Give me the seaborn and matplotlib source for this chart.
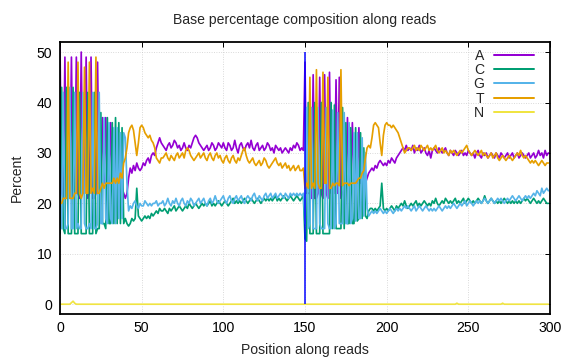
import matplotlib
matplotlib.use("Agg")
import matplotlib.pyplot as plt
import seaborn as sns
import pandas as pd
from matplotlib.lines import Line2D

# ---------------- data (percent of each base at each read position) ----------------
positions = list(range(0, 300))
bases = ["A", "C", "G", "T", "N"]

pct_A = [
    51, 22, 21, 49, 21, 22, 21, 49, 21, 22,
    49, 22, 21, 50, 22, 22, 49, 21, 22, 49,
    21, 21, 22, 48, 22, 24, 37, 24, 37, 23,
    24, 36, 24, 24, 23, 24, 23, 24, 23, 22,
    21, 22, 25, 27, 26, 27.5, 26.5, 28, 27, 26.5,
    27, 28, 27.5, 28.5, 29, 28, 29.5, 30, 29.5, 31,
    32, 33, 32, 31.5, 31, 30.5, 31.5, 32, 31, 31.5,
    32.5, 32, 31, 31.5, 30.5, 31, 32, 31, 30.5, 31.5,
    31, 32, 33, 33.5, 33, 32, 31.5, 31, 30.5, 31,
    31.5, 30.5, 31, 32, 31.5, 30.5, 31, 32, 31.5, 31,
    32, 31, 30.5, 32, 31.5, 30.5, 31, 32.5, 31, 30,
    31.5, 32, 31, 30.5, 31.5, 32, 31, 32.5, 31, 30.5,
    31.5, 32, 30.5, 31, 31.5, 30.5, 31, 32, 31.5, 30.5,
    31, 30, 31.5, 31, 30.5, 31, 30, 30.5, 31, 30.5,
    30, 31, 30.5, 31.5, 31, 32, 31.5, 30.5, 31, 30.5,
    48, 22, 22, 22, 21, 45.5, 21, 21, 22, 45,
    22, 21, 45.5, 22, 21, 46, 22, 22, 22, 44.5,
    22, 45, 21, 22, 23, 23, 37, 24, 24, 36,
    24, 24, 24, 35, 24, 25, 25, 24, 25, 26,
    26.5, 27, 26.5, 27.5, 27, 28, 28.5, 28, 27.5, 28,
    27.5, 28.5, 28, 29, 28.5, 28, 29, 29.5, 30, 30.5,
    31, 30.5, 31.5, 30.5, 31, 30.5, 31.5, 30, 31, 30.5,
    31.5, 30, 30.5, 31, 30, 29.5, 30.5, 29, 30.5, 31,
    30.5, 30, 31, 30.5, 30, 30.5, 31, 30, 29.5, 30.5,
    30, 29.5, 30.5, 30, 29.5, 30, 30.5, 29.5, 30, 29.5,
    30.5, 30, 29.5, 30, 29, 30, 30.5, 29.5, 29, 30,
    29.5, 30, 29, 29.5, 30, 29.5, 29, 30, 29.5, 29,
    30, 29.5, 29, 29.5, 30, 29, 29.5, 30, 29, 29.5,
    30, 29, 29.5, 30, 29.5, 29, 29.5, 30, 29, 29.5,
    30, 29, 29.5, 30.5, 29.5, 30, 29, 30.5, 29.5, 30,
]

pct_C = [
    14, 43, 15, 14, 43, 14, 14, 14, 43, 14,
    14, 14, 42, 14, 14, 14, 14, 42, 14, 14,
    14, 42, 14, 15, 15, 38, 16, 16, 15, 37,
    16, 16, 36, 16, 37, 16, 36, 16, 35, 16,
    17, 16, 15.5, 16, 17, 16.5, 17, 23, 17.5, 17,
    16.5, 17, 17.5, 17, 17.5, 17, 18, 17.5, 18, 18.5,
    18, 19, 18.5, 18.5, 19, 18.5, 18, 19, 18.5, 19,
    19.5, 18.5, 19, 19.5, 19, 18.5, 19, 19.5, 19, 20,
    19.5, 19, 19.5, 20, 19.5, 19, 19.5, 20, 19.5, 20,
    19.5, 20, 20.5, 19.5, 20, 19.5, 20, 20.5, 20, 19.5,
    20, 20.5, 20, 19.5, 20, 20.5, 21, 20, 20.5, 20,
    20.5, 20, 20.5, 21, 20.5, 20, 20.5, 21, 20.5, 20,
    20.5, 21, 20.5, 20, 20.5, 21, 20.5, 21, 20.5, 21,
    20.5, 21, 21.5, 20.5, 21, 20.5, 21, 21.5, 21, 20.5,
    21, 21.5, 21, 20.5, 21, 21.5, 21, 20.5, 21, 21.5,
    13, 12.5, 40, 14, 14, 14, 40, 14, 14, 14,
    40, 14, 14, 14, 14, 14, 40, 15, 39.5, 15,
    15, 15, 15, 39, 15, 36, 16, 16, 35, 16,
    16, 35, 16.5, 17, 34, 17, 31, 17.5, 17, 18.5,
    19, 19, 18.5, 19, 18.5, 19, 19.5, 24, 19, 18.5,
    19, 18.5, 19, 19.5, 19, 18.5, 19.5, 19, 19.5, 20,
    19.5, 20.5, 19.5, 19, 19.5, 20, 19.5, 20, 20.5, 19.5,
    20, 19.5, 20, 20.5, 20, 19.5, 20, 19.5, 20.5, 20,
    21, 20, 19.5, 20, 20.5, 20, 21, 20.5, 20, 20.5,
    20, 20.5, 21, 20, 20.5, 20, 20.5, 21, 20, 20.5,
    21, 20.5, 20, 20.5, 20, 20.5, 21, 20.5, 20, 20.5,
    21.5, 20.5, 20, 20.5, 21, 20.5, 20, 20.5, 20, 20.5,
    20, 20.5, 21, 20.5, 20, 20.5, 20, 20.5, 20, 20.5,
    20, 20.5, 20, 20.5, 21, 20.5, 21, 20.5, 20, 20.5,
    21, 20.5, 20, 20.5, 20, 20.5, 21, 20.5, 20, 20,
]

pct_G = [
    15, 15, 42, 15, 15, 16, 43, 15, 15, 42,
    15, 16, 15, 15, 42, 16, 15, 15, 16, 15,
    42, 15, 15, 16, 42, 16, 16, 37, 17, 16,
    36, 17, 16, 35, 16, 35, 17, 34, 17, 34,
    33, 24, 18.5, 19.5, 19, 20, 20.5, 19.5, 19, 20,
    19.5, 19.5, 20.5, 20, 19.5, 20, 19.5, 20, 20, 20.5,
    19.5, 20, 20, 20.5, 19.5, 20, 21, 20, 19.5, 20.5,
    20, 21, 20, 19.5, 20.5, 21, 20, 19.5, 20.5, 20,
    21, 20.5, 19.5, 20, 20.5, 21, 20, 20.5, 21, 20,
    19.5, 20.5, 21, 20, 20.5, 21.5, 20.5, 20, 20.5, 21,
    21.5, 20.5, 20, 21, 21.5, 20.5, 20, 21, 21.5, 20.5,
    21, 21.5, 20.5, 20, 21, 21.5, 21, 20.5, 21.5, 22,
    21, 20.5, 21.5, 21, 20.5, 21.5, 22, 21, 21.5, 22,
    21, 21.5, 22, 21, 21.5, 22, 21.5, 21, 22, 21.5,
    21, 22, 21.5, 22, 21.5, 22, 21.5, 22, 21.5, 22,
    16, 39, 15, 16, 39, 15, 15, 15, 39, 16,
    15, 15, 15, 39, 16, 15, 15, 38.5, 15, 16,
    38, 16, 16, 16, 38, 16, 16, 36, 16, 17,
    34, 16.5, 34, 17, 17, 33, 17.5, 30, 19, 17.5,
    18, 18.5, 18, 18.5, 18, 18.5, 19, 18.5, 18, 18.5,
    18, 18.5, 19, 18.5, 18, 18.5, 19, 18.5, 19, 18.5,
    19, 19.5, 19, 19.5, 19, 18.5, 19, 19.5, 18.5, 19,
    19.5, 19, 18.5, 19, 19.5, 19, 18.5, 19, 18.5, 19,
    18.5, 19, 19.5, 19, 18.5, 19, 19.5, 19, 19.5, 19,
    19.5, 20, 19.5, 19, 19.5, 20, 19.5, 20, 20.5, 19.5,
    20, 20.5, 20, 19.5, 20, 20.5, 20, 20.5, 20, 20.5,
    21, 20.5, 20, 20.5, 21, 20.5, 20, 20.5, 21, 20.5,
    21, 20.5, 20, 20.5, 21, 20.5, 21, 21.5, 21, 20.5,
    21, 21.5, 21, 20.5, 21, 21.5, 21, 21.5, 21, 21.5,
    22, 21.5, 22.5, 22, 21.5, 23, 22, 22.5, 23, 22.5,
]

pct_T = [
    20, 20, 21, 21, 21, 48, 21, 21, 21, 22,
    22, 48, 22, 21, 22, 47, 22, 22, 48, 22,
    23, 22, 49, 22, 22, 23, 24, 23, 24, 24,
    24, 24, 24, 25, 24, 25, 24, 26, 25, 28,
    29, 31, 34, 35, 35.5, 34.5, 32, 29.5, 32, 35,
    35.5, 35, 34, 33.5, 33, 33.5, 32.5, 32, 31, 29,
    28.5, 28, 29, 29, 29.5, 30, 29, 28.5, 29.5, 29,
    28.5, 29.5, 30, 29, 29.5, 30, 29, 30.5, 31, 30.5,
    29.5, 29, 28.5, 29, 29.5, 30, 29, 29.5, 30, 29,
    28.5, 29.5, 30, 29, 28.5, 29.5, 30, 29, 29.5, 28.5,
    28, 29, 29.5, 28.5, 28, 29, 29.5, 28.5, 28, 29,
    28.5, 29.5, 30.5, 31, 29.5, 28.5, 28, 28.5, 29, 28,
    27.5, 28, 28.5, 27.5, 28, 29, 28.5, 27.5, 27, 27.5,
    28, 28.5, 29, 28, 27.5, 28, 27, 27.5, 28, 27,
    27.5, 26.5, 27, 27.5, 26.5, 27, 27.5, 26.5, 26.5, 27,
    23, 24, 23, 45, 23, 24, 23, 46.5, 24, 23,
    23, 46, 24, 24, 45, 23, 23, 24, 23.5, 24,
    24, 23.5, 46.5, 23.5, 24, 24, 24, 23.5, 24, 24,
    24, 24, 24.5, 25, 25, 26, 26.5, 29, 31, 31.5,
    31, 33, 35.5, 36, 35.5, 35, 32, 29.5, 33.5, 35.5,
    36, 35.5, 35.5, 35, 35.5, 35, 34.5, 34, 33, 32,
    31, 30, 30.5, 31, 31, 30.5, 31, 31.5, 30.5, 31,
    30.5, 31.5, 31, 30.5, 31, 31.5, 30.5, 31, 30.5, 31,
    31.5, 30.5, 30, 30.5, 31, 30, 30.5, 30, 29.5, 30.5,
    30, 30.5, 30, 29.5, 30, 30.5, 30, 30.5, 31, 31.5,
    30.5, 30, 29.5, 30, 30.5, 30, 29.5, 30, 30.5, 29.5,
    30, 29.5, 29, 29.5, 30, 29, 29.5, 30, 29, 28.5,
    29, 29.5, 29, 28.5, 29, 29.5, 29, 28.5, 29, 29.5,
    30, 29.5, 30.5, 29.5, 29, 29.5, 29, 28.5, 28, 28.5,
    28, 28.5, 28, 27.5, 28, 28.5, 28, 27.5, 28, 28,
]

pct_N = [
    0, 0, 0, 0, 0, 0, 0, 0.3, 0.6, 0.2,
    0, 0, 0, 0, 0, 0, 0, 0, 0, 0,
    0, 0, 0, 0, 0, 0, 0, 0, 0, 0,
    0, 0, 0, 0, 0, 0, 0, 0, 0, 0,
    0, 0, 0, 0, 0, 0, 0, 0, 0, 0,
    0, 0, 0, 0, 0, 0, 0, 0, 0, 0,
    0, 0, 0, 0, 0, 0, 0, 0, 0, 0,
    0, 0, 0, 0, 0, 0, 0, 0, 0, 0,
    0, 0, 0, 0, 0, 0, 0, 0, 0, 0,
    0, 0, 0, 0, 0, 0, 0, 0, 0, 0,
    0, 0, 0, 0, 0, 0, 0, 0, 0, 0,
    0, 0, 0, 0, 0, 0, 0, 0, 0, 0,
    0, 0, 0, 0, 0, 0, 0, 0, 0, 0,
    0, 0, 0, 0, 0, 0, 0, 0, 0, 0,
    0, 0, 0, 0, 0, 0, 0, 0, 0, 0,
    0, 0, 0, 0, 0, 0, 0, 0, 0, 0,
    0, 0, 0, 0, 0, 0, 0, 0, 0, 0,
    0, 0, 0, 0, 0, 0, 0, 0, 0, 0,
    0, 0, 0, 0, 0, 0, 0, 0, 0, 0,
    0, 0, 0, 0, 0, 0, 0, 0, 0, 0,
    0, 0, 0, 0, 0, 0, 0, 0, 0, 0,
    0, 0, 0, 0, 0, 0, 0, 0, 0, 0,
    0, 0, 0, 0, 0, 0, 0, 0, 0, 0,
    0, 0, 0, 0, 0, 0, 0, 0, 0, 0,
    0, 0, 0, 0.2, 0, 0, 0, 0, 0, 0,
    0, 0, 0, 0, 0, 0, 0, 0, 0, 0,
    0, 0, 0, 0, 0, 0, 0, 0, 0, 0,
    0, 0.2, 0, 0, 0, 0, 0, 0, 0, 0,
    0, 0, 0, 0, 0, 0, 0, 0, 0, 0,
    0, 0, 0, 0, 0, 0, 0, 0, 0, 0,
]

read_boundary = 150
x_ticks = [0, 50, 100, 150, 200, 250, 300]
y_ticks = [0, 10, 20, 30, 40, 50]

# ---------------- build long-form table ----------------
series = {"A": pct_A, "C": pct_C, "G": pct_G, "T": pct_T, "N": pct_N}
frames = []
for b in bases:
    frames.append(pd.DataFrame({"pos": positions, "pct": series[b], "base": b}))
df = pd.concat(frames, ignore_index=True)

palette = {"A": "#9400d3", "C": "#009e73", "G": "#56b4e9", "T": "#e69f00", "N": "#f0e442"}

# ---------------- style ----------------
sns.set_theme(style="white")
plt.rcParams["font.family"] = ["Liberation Sans", "DejaVu Sans"]

FS = 14

fig = plt.figure(figsize=(8, 5), dpi=72)
ax = fig.add_axes([60 / 576, 1 - 314.3 / 360, 490 / 576, 272.3 / 360])

sns.lineplot(data=df, x="pos", y="pct", hue="base", hue_order=bases,
             palette=palette, lw=1.7, legend=False, ax=ax,
             estimator=None, sort=False)

ax.vlines(read_boundary, 0, 50, color="#0000ff", lw=1.5, zorder=3)

ax.set_xlim(0, 300)
ax.set_ylim(-2, 52)
ax.set_xticks(x_ticks)
ax.set_yticks(y_ticks)
ax.grid(True, color="#c8c8c8", linestyle=(0, (1, 2)), lw=0.8)
ax.set_axisbelow(True)
for s in ax.spines.values():
    s.set_color("black")
    s.set_linewidth(1.8)
ax.tick_params(direction="in", length=5, width=1, top=True, right=True,
               labelsize=FS, colors="black")
ax.tick_params(axis="x", pad=7)
ax.tick_params(axis="y", pad=8)

ax.set_xlabel("Position along reads", fontsize=FS, labelpad=8)
ax.set_ylabel("Percent", fontsize=FS, labelpad=13)
ax.set_title("Base percentage composition along reads", fontsize=FS, pad=18)

handles = [Line2D([], [], color=palette[b], lw=2) for b in bases]
ax.legend(handles, bases, loc="upper right", bbox_to_anchor=(0.968, 0.975),
          frameon=False, markerfirst=False, fontsize=FS, handlelength=2.9,
          handletextpad=0.7, labelspacing=0.02, borderpad=0, borderaxespad=0)

fig.savefig("out.png", dpi=72)
